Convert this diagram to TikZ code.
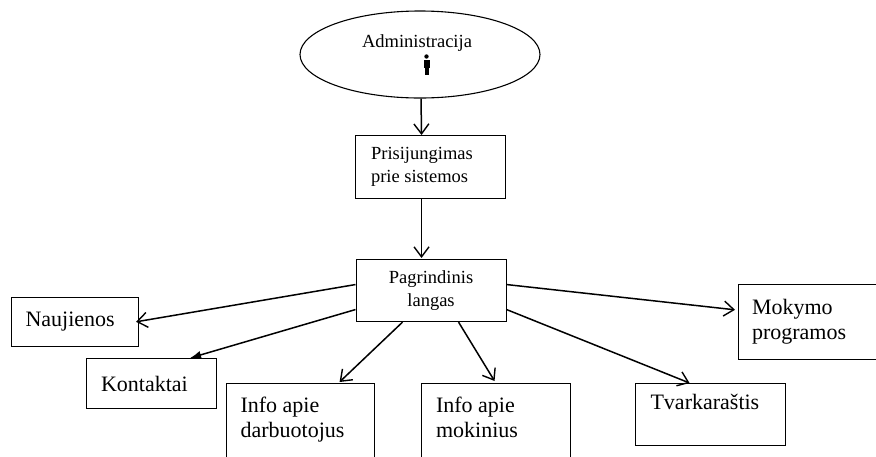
\documentclass[tikz,border=0pt]{standalone}
\usepackage{fontspec}
\setmainfont{Liberation Serif}
\usetikzlibrary{arrows.meta,shapes.geometric}
\tikzset{
  x=1pt,y=-1pt,
  boxbase/.style={draw,line width=1.1pt,inner sep=0pt,align=left,anchor=north west},
  bigbox/.style={boxbase,inner xsep=14.5pt,font=\fontsize{22}{24.5}\selectfont,execute at begin node={\spaceskip=5.5pt\relax}},
  smallbox/.style={boxbase,font=\fontsize{18.5}{23}\selectfont,execute at begin node={\spaceskip=4.6pt\relax}},
  conn/.style={line width=1.5pt,-{Straight Barb[length=10pt,width=15pt,line width=1.4pt]}},
  connfill/.style={line width=1.5pt,-{Latex[length=11pt,width=8pt]}}
}
\begin{document}
\begin{tikzpicture}
\useasboundingbox (0,0) rectangle (876,456);
\clip (0,0) rectangle (876,456);
\fill[white] (0,0) rectangle (876,456);
\node[draw,line width=1.1pt,ellipse,inner sep=0pt,minimum width=240pt,minimum height=87pt] (adm) at (420,54.5) {};
\node[font=\fontsize{18.5}{22}\selectfont,inner sep=0pt,anchor=base] (admt) at (417,47) {Administracija};
\fill (426.5,56.5) circle (2.2pt);
\fill (423.5,60) rectangle (429.5,68);
\fill (424.5,68) rectangle (428.5,75);
\node[smallbox,minimum width=150pt,minimum height=63pt,text width=119pt,inner xsep=15.5pt] (pri) at (355,135) {Prisijungimas\\prie sistemos};
\node[smallbox,minimum width=150pt,minimum height=62pt,text width=150pt,align=center] (pag) at (355.5,259) {Pagrindinis\\langas};
\node[bigbox,minimum width=127pt,minimum height=49.5pt,text width=99pt,inner xsep=14pt] (nau) at (11,296.5) {Naujienos};
\node[bigbox,minimum width=130pt,minimum height=50pt,text width=100pt,inner xsep=15pt] (kon) at (85.5,358) {Kontaktai};
\node[bigbox,minimum width=148pt,minimum height=92pt,text width=119pt] (dar) at (225.5,383) {Info apie\\darbuotojus\\~};
\node[bigbox,minimum width=149pt,minimum height=92pt,text width=120pt] (moki) at (421,383) {Info apie\\mokinius\\~};
\node[bigbox,minimum width=150pt,minimum height=62pt,text width=120pt,inner xsep=15pt] (tva) at (635,383) {Tvarkaraštis\\~};
\node[bigbox,minimum width=150pt,minimum height=75.5pt,text width=123pt,inner xsep=13.5pt] (mok) at (738,283.5) {Mokymo\\programos};
\draw[conn] ([xshift=1pt]adm.south) -- ([xshift=-9pt]pri.north);
\draw[conn] ([xshift=-9pt]pri.south) -- ([xshift=-9.5pt,yshift=1pt]pag.north);
\draw[conn] ([yshift=6pt]pag.west) -- ([xshift=-3pt]nau.east);
\draw[connfill] ([yshift=-19pt]pag.west) -- ([xshift=39pt]kon.north);
\draw[conn] ([xshift=-28.5pt]pag.south) -- ([xshift=39.5pt,yshift=1pt]dar.north);
\draw[conn] ([xshift=27.5pt]pag.south) -- ([xshift=-1.5pt,yshift=2pt]moki.north);
\draw[conn] ([yshift=6pt]pag.east) -- ([xshift=-3pt,yshift=12pt]mok.west);
\draw[conn] ([yshift=-19pt]pag.east) -- ([xshift=-21pt]tva.north);
\end{tikzpicture}
\end{document}
